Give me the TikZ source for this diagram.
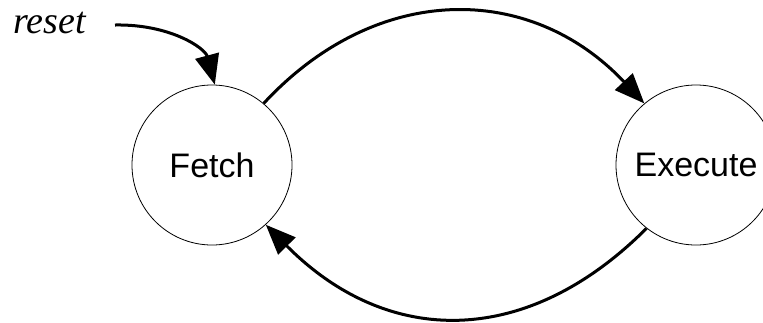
\documentclass[tikz,border=0pt]{standalone}
\usepackage{fontspec}
\setmainfont{Liberation Serif}
\setsansfont{Liberation Sans}
\usetikzlibrary{arrows.meta}
\begin{document}
\begin{tikzpicture}[x=1pt,y=-1pt,
  state/.style={circle,draw,line width=0.8pt,minimum size=160pt,inner sep=0pt,
    font=\sffamily\fontsize{34}{40}\selectfont},
  trans/.style={line width=3pt,-{Triangle[length=30pt,width=24pt]}}]
\useasboundingbox (0,0) rectangle (763,322);
\node[state] (fetch) at (212,165) {Fetch};
\node[state] (execute) at (696,165) {Execute};
\node[anchor=base west,inner sep=0pt,font=\itshape\fontsize{38}{44}\selectfont] (resetlbl) at (13,33) {reset};
\coordinate (rs) at (115,25);
% initial transition
\draw[trans] (rs) .. controls (170,24) and (205,48) .. (fetch.88);
% Fetch -> Execute
\draw[trans] (fetch.50) .. controls (376,-18) and (530,-18) .. (execute.130);
% Execute -> Fetch
\draw[trans] (execute.232) .. controls (527,348) and (388,348) .. (fetch.-48);
\end{tikzpicture}
\end{document}
